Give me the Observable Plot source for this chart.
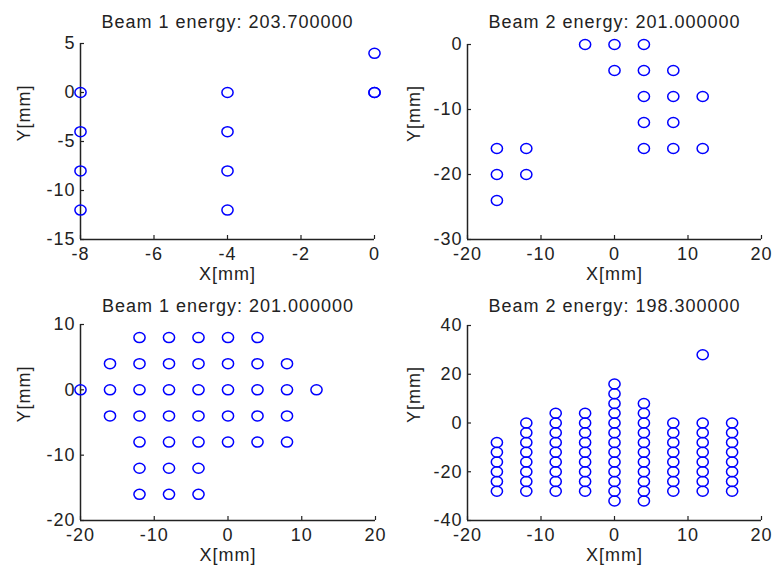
<!DOCTYPE html>
<html>
<head>
<meta charset="utf-8">
<script src="https://cdn.jsdelivr.net/npm/d3@7"></script>
<script src="https://cdn.jsdelivr.net/npm/@observablehq/plot@0.6"></script>
<style>
  html, body { margin: 0; padding: 0; background: #fff; }
  #wrap { position: relative; width: 779px; height: 576px; overflow: hidden; }
  #wrap > svg { position: absolute; }
</style>
</head>
<body>
<div id="wrap"></div>
<script>
// ---- Data ----
const titles = [
  "Beam 1 energy: 203.700000",
  "Beam 2 energy: 201.000000",
  "Beam 1 energy: 201.000000",
  "Beam 2 energy: 198.300000"
];

// Panel 1
const p1x = [-8, -8, -8, -8, -4, -4, -4, -4, 0, 0, 0];
const p1y = [0, -4, -8, -12, 0, -4, -8, -12, 4, 0, 0];

// Panel 2
const p2x = [-4, 0, 4, 0, 4, 8, 4, 8, 12, 4, 8, 4, 8, 12, -16, -12, -16, -12, -16];
const p2y = [0, 0, 0, -4, -4, -4, -8, -8, -8, -12, -12, -16, -16, -16, -16, -16, -20, -20, -24];

// Panel 3
const p3x = [
  -12, -8, -4, 0, 4,
  -16, -12, -8, -4, 0, 4, 8,
  -20, -16, -12, -8, -4, 0, 4, 8, 12,
  -16, -12, -8, -4, 0, 4, 8,
  -12, -8, -4, 0, 4, 8,
  -12, -8, -4,
  -12, -8, -4
];
const p3y = [
  8, 8, 8, 8, 8,
  4, 4, 4, 4, 4, 4, 4,
  0, 0, 0, 0, 0, 0, 0, 0, 0,
  -4, -4, -4, -4, -4, -4, -4,
  -8, -8, -8, -8, -8, -8,
  -12, -12, -12,
  -16, -16, -16
];

// Panel 4 (columns)
const p4cols = [-16, -12, -8, -4, 0, 4, 8, 12, 16];
const p4colY = [
  [-8, -12, -16, -20, -24, -28],
  [0, -4, -8, -12, -16, -20, -24, -28],
  [4, 0, -4, -8, -12, -16, -20, -24, -28],
  [4, 0, -4, -8, -12, -16, -20, -24, -28],
  [16, 12, 8, 4, 0, -4, -8, -12, -16, -20, -24, -28, -32],
  [8, 4, 0, -4, -8, -12, -16, -20, -24, -28, -32],
  [0, -4, -8, -12, -16, -20, -24, -28],
  [28, 0, -4, -8, -12, -16, -20, -24, -28],
  [0, -4, -8, -12, -16, -20, -24, -28]
];

// Axis domains and ticks
const xDomains = [[-8, 0], [-20, 20], [-20, 20], [-20, 20]];
const yDomains = [[-15, 5], [-30, 0], [-20, 10], [-40, 40]];
const xTicks = [[-8, -6, -4, -2, 0], [-20, -10, 0, 10, 20], [-20, -10, 0, 10, 20], [-20, -10, 0, 10, 20]];
const yTicks = [[-15, -10, -5, 0, 5], [-30, -20, -10, 0], [-20, -10, 0, 10], [-40, -20, 0, 20, 40]];

// ---- Build ----
const zip = (xs, ys) => xs.map((x, i) => ({x, y: ys[i]}));
const p4 = [];
p4cols.forEach((cx, i) => p4colY[i].forEach(y => p4.push({x: cx, y})));
const datasets = [zip(p1x, p1y), zip(p2x, p2y), zip(p3x, p3y), p4];

// slightly wide ellipse marker (the reference figure is horizontally stretched)
const ellipseSymbol = {
  draw(context, size) {
    const ry = Math.sqrt(size / Math.PI);
    const rx = ry * 1.12;
    const k = 0.5523;
    context.moveTo(rx, 0);
    context.bezierCurveTo(rx, k * ry, k * rx, ry, 0, ry);
    context.bezierCurveTo(-k * rx, ry, -rx, k * ry, -rx, 0);
    context.bezierCurveTo(-rx, -k * ry, -k * rx, -ry, 0, -ry);
    context.bezierCurveTo(k * rx, -ry, rx, -k * ry, rx, 0);
    context.closePath();
  }
};

const layout = [
  {left: 0,   top: 0,   width: 390, height: 288, mL: 80, mR: 16, mT: 43, mB: 49, tdy: -21},
  {left: 390, top: 0,   width: 389, height: 288, mL: 77, mR: 18, mT: 44, mB: 49, tdy: -22},
  {left: 0,   top: 288, width: 390, height: 288, mL: 80, mR: 15, mT: 36, mB: 56, tdy: -18},
  {left: 390, top: 288, width: 389, height: 288, mL: 77, mR: 18, mT: 37, mB: 56, tdy: -19}
];

const font = "'Liberation Sans', Arial, sans-serif";
const ink = "#222";
const wrap = document.getElementById("wrap");

datasets.forEach((data, i) => {
  const L = layout[i];
  const chart = Plot.plot({
    width: L.width,
    height: L.height,
    marginLeft: L.mL, marginRight: L.mR, marginTop: L.mT, marginBottom: L.mB,
    style: {fontFamily: font, fontSize: "18px", color: ink, background: "transparent", letterSpacing: "1px", overflow: "visible"},
    x: {domain: xDomains[i], ticks: xTicks[i]},
    y: {domain: yDomains[i], ticks: yTicks[i]},
    marks: [
      Plot.ruleX([xDomains[i][0]], {stroke: ink, strokeWidth: 1.5}),
      Plot.ruleY([yDomains[i][0]], {stroke: ink, strokeWidth: 1.5}),
      Plot.axisX({ticks: xTicks[i], tickSize: -4, tickPadding: 12, stroke: ink, strokeWidth: 1.2, fill: ink, label: null, tickFormat: d => d}),
      Plot.axisY({ticks: yTicks[i], tickSize: -4, tickPadding: 9, stroke: ink, strokeWidth: 1.2, fill: ink, label: null, tickFormat: d => d}),
      Plot.dot(data, {x: "x", y: "y", r: 5.0, symbol: ellipseSymbol, stroke: "#0000ff", strokeWidth: 1.5, fill: "none"}),
      Plot.text([titles[i]], {frameAnchor: "top", dy: L.tdy, text: d => d, fill: ink, fontSize: 18, lineAnchor: "middle"}),
      Plot.text(["X[mm]"], {frameAnchor: "bottom", dy: 35, text: d => d, fill: ink, fontSize: 18, lineAnchor: "middle"}),
      Plot.text(["Y[mm]"], {frameAnchor: "left", dx: -(L.mL - 24), rotate: -90, text: d => d, fill: ink, fontSize: 18, lineAnchor: "middle"})
    ]
  });
  chart.style.left = L.left + "px";
  chart.style.top = L.top + "px";
  wrap.appendChild(chart);
});
</script>
</body>
</html>
